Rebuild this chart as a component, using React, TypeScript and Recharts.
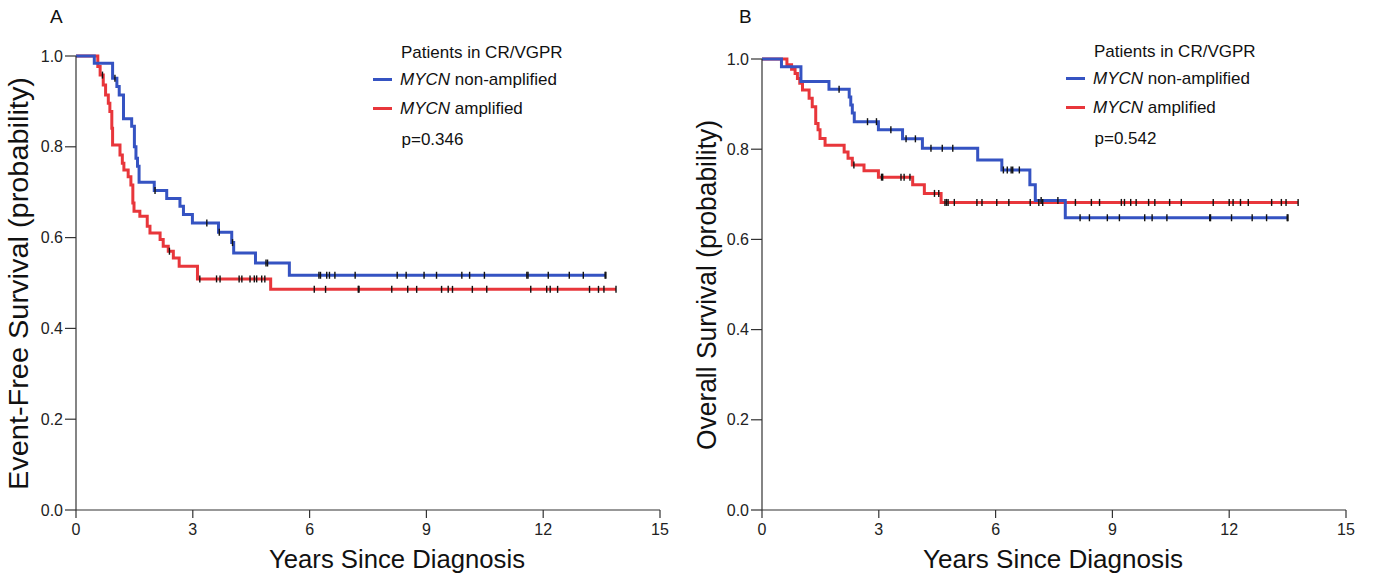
import React from "react";
import { ComposedChart, Line, XAxis, YAxis } from "recharts";

// ---------- Panel A: Event-free survival ----------
const efsNonAmpTimes = [0.47, 0.94, 1.05, 1.11, 1.22, 1.43, 1.5, 1.54, 1.58, 1.62, 2.01, 2.33, 2.67, 2.76, 2.99, 3.66, 4.0, 4.05, 4.61, 5.48];
const efsNonAmpSurv = [0.984, 0.951, 0.933, 0.914, 0.862, 0.845, 0.8, 0.775, 0.757, 0.722, 0.704, 0.686, 0.669, 0.651, 0.632, 0.612, 0.589, 0.566, 0.544, 0.517];
const efsNonAmpCensored = [1.0, 2.03, 3.36, 3.68, 4.02, 4.88, 4.92, 6.24, 6.28, 6.44, 6.51, 6.65, 7.17, 8.25, 8.48, 8.94, 9.26, 9.91, 10.11, 10.49, 11.58, 11.61, 12.13, 12.67, 13.03, 13.59, 13.61];

const efsAmpTimes = [0.56, 0.62, 0.7, 0.76, 0.83, 0.87, 0.92, 0.94, 1.13, 1.19, 1.23, 1.34, 1.41, 1.46, 1.49, 1.64, 1.83, 1.9, 2.16, 2.24, 2.37, 2.5, 2.65, 3.12, 5.0];
const efsAmpSurv = [0.977, 0.958, 0.936, 0.914, 0.896, 0.878, 0.841, 0.804, 0.782, 0.764, 0.749, 0.734, 0.716, 0.676, 0.658, 0.647, 0.625, 0.61, 0.596, 0.581, 0.57, 0.555, 0.537, 0.509, 0.486];
const efsAmpCensored = [0.68, 2.4, 3.18, 3.61, 3.7, 4.19, 4.26, 4.47, 4.58, 4.64, 4.77, 4.85, 6.12, 6.41, 7.25, 7.27, 8.11, 8.52, 8.75, 9.39, 9.56, 9.67, 10.18, 10.55, 11.68, 12.09, 12.18, 12.37, 13.19, 13.42, 13.56, 13.87];

// ---------- Panel B: Overall survival ----------
const osNonAmpTimes = [0.5, 1.0, 1.72, 2.24, 2.28, 2.32, 2.37, 2.99, 3.61, 4.12, 5.54, 6.16, 6.88, 7.02, 7.79];
const osNonAmpSurv = [0.983, 0.95, 0.933, 0.916, 0.898, 0.88, 0.861, 0.843, 0.823, 0.802, 0.776, 0.754, 0.721, 0.686, 0.648];
const osNonAmpCensored = [1.98, 2.71, 2.94, 3.31, 3.7, 3.94, 4.34, 4.63, 4.9, 6.2, 6.3, 6.4, 6.44, 6.61, 7.17, 7.6, 8.17, 8.41, 8.87, 9.18, 9.83, 10.02, 10.4, 11.5, 11.52, 12.06, 12.59, 12.96, 13.49, 13.51];

const osAmpTimes = [0.64, 0.76, 0.85, 0.91, 0.97, 1.04, 1.21, 1.29, 1.38, 1.44, 1.49, 1.62, 2.11, 2.21, 2.32, 2.62, 2.99, 3.87, 4.17, 4.6];
const osAmpSurv = [0.987, 0.977, 0.968, 0.957, 0.946, 0.931, 0.913, 0.894, 0.857, 0.843, 0.824, 0.809, 0.794, 0.78, 0.765, 0.752, 0.738, 0.721, 0.702, 0.682];
const osAmpCensored = [2.36, 3.07, 3.1, 3.57, 3.65, 3.8, 4.43, 4.54, 4.7, 4.74, 4.78, 4.94, 5.52, 5.65, 6.03, 6.34, 6.89, 7.11, 7.21, 8.05, 8.46, 8.67, 9.23, 9.31, 9.47, 9.61, 9.93, 10.09, 10.47, 10.77, 11.59, 12.0, 12.1, 12.29, 12.49, 13.09, 13.34, 13.46, 13.77];

const xTicks = [0, 3, 6, 9, 12, 15];
const yTicks = [0, 0.2, 0.4, 0.6, 0.8, 1.0];

const BLUE = "#3553c2";
const RED = "#e8363b";
const FONT = "'Liberation Sans', Arial, Helvetica, sans-serif";

type Pt = { t: number; s: number; c?: boolean };

function buildKM(times: number[], surv: number[], censored: number[]): Pt[] {
  const pts: Pt[] = [{ t: 0, s: 1 }];
  times.forEach((t, i) => pts.push({ t, s: surv[i] }));
  const survAt = (t: number) => {
    let s = 1;
    times.forEach((et, i) => {
      if (et <= t) s = surv[i];
    });
    return s;
  };
  censored.forEach((t) => pts.push({ t, s: survAt(t), c: true }));
  pts.sort((a, b) => a.t - b.t || (a.c ? 1 : 0) - (b.c ? 1 : 0));
  return pts;
}

const efsNonAmp = buildKM(efsNonAmpTimes, efsNonAmpSurv, efsNonAmpCensored);
const efsAmp = buildKM(efsAmpTimes, efsAmpSurv, efsAmpCensored);
const osNonAmp = buildKM(osNonAmpTimes, osNonAmpSurv, osNonAmpCensored);
const osAmp = buildKM(osAmpTimes, osAmpSurv, osAmpCensored);

const censorDot = (props: any) => {
  const { cx, cy, payload, index } = props;
  if (!payload || !payload.c || cx == null || cy == null) return <g key={`d-${index}`} />;
  return <line key={`d-${index}`} x1={cx} x2={cx} y1={cy - 3.5} y2={cy + 3.5} stroke="#111" strokeWidth={1.4} />;
};

const tickStyle = { fontSize: 16, fill: "#222", fontFamily: FONT };

function KMPanel(props: { left: number; width: number; top: number; right: number; blue: Pt[]; red: Pt[] }) {
  const { left, width, top, right, blue, red } = props;
  return (
    <div style={{ position: "absolute", left, top: 0, width, height: 580 }}>
      <ComposedChart width={width} height={580} margin={{ top, right, bottom: 0, left: 0 }}>
        <XAxis
          type="number"
          dataKey="t"
          domain={[0, 15]}
          ticks={xTicks}
          allowDataOverflow
          height={70}
          tickSize={8}
          tickMargin={6}
          tick={tickStyle}
          axisLine={{ stroke: "#333", strokeWidth: 1.2 }}
          tickLine={{ stroke: "#333", strokeWidth: 1.2 }}
        />
        <YAxis
          type="number"
          domain={[0, 1]}
          ticks={yTicks}
          width={76}
          tickSize={11}
          tickMargin={2}
          tick={tickStyle}
          tickFormatter={(v: number) => v.toFixed(1)}
          axisLine={{ stroke: "#333", strokeWidth: 1.2 }}
          tickLine={{ stroke: "#333", strokeWidth: 1.2 }}
        />
        <Line
          data={red}
          dataKey="s"
          type="stepAfter"
          stroke={RED}
          strokeWidth={3}
          dot={censorDot}
          activeDot={false}
          isAnimationActive={false}
        />
        <Line
          data={blue}
          dataKey="s"
          type="stepAfter"
          stroke={BLUE}
          strokeWidth={3}
          dot={censorDot}
          activeDot={false}
          isAnimationActive={false}
        />
      </ComposedChart>
    </div>
  );
}

function Legend(props: { x: number; y: number; p: string }) {
  const { x, y, p } = props;
  return (
    <g fontFamily={FONT} fontSize={17} fill="#111">
      <text x={x + 28} y={y}>Patients in CR/VGPR</text>
      <line x1={x} x2={x + 19} y1={y + 21.5} y2={y + 21.5} stroke={BLUE} strokeWidth={3} />
      <text x={x + 27} y={y + 27}>
        <tspan fontStyle="italic">MYCN</tspan> non-amplified
      </text>
      <line x1={x} x2={x + 19} y1={y + 50.5} y2={y + 50.5} stroke={RED} strokeWidth={3} />
      <text x={x + 27} y={y + 56}>
        <tspan fontStyle="italic">MYCN</tspan> amplified
      </text>
      <text x={x + 28.5} y={y + 87}>{p}</text>
    </g>
  );
}

export default function App() {
  return (
    <div style={{ position: "absolute", left: 0, top: 0, width: 1373, height: 580, background: "#fff", overflow: "hidden" }}>
      <KMPanel left={0} width={686} top={56} right={26} blue={efsNonAmp} red={efsAmp} />
      <KMPanel left={686} width={687} top={59} right={27} blue={osNonAmp} red={osAmp} />
      <svg width={1373} height={580} style={{ position: "absolute", left: 0, top: 0, pointerEvents: "none" }}>
        <g fontFamily={FONT} fill="#111">
          <text x={50} y={23} fontSize={19}>A</text>
          <text x={739} y={23} fontSize={19}>B</text>
          <text transform="translate(28,283.5) rotate(-90)" textAnchor="middle" fontSize={27} textLength={413} lengthAdjust="spacingAndGlyphs">
            Event-Free Survival (probability)
          </text>
          <text transform="translate(716,285) rotate(-90)" textAnchor="middle" fontSize={27} textLength={330} lengthAdjust="spacingAndGlyphs">
            Overall Survival (probability)
          </text>
          <text x={397} y={568} textAnchor="middle" fontSize={25} textLength={256} lengthAdjust="spacingAndGlyphs">
            Years Since Diagnosis
          </text>
          <text x={1053} y={568} textAnchor="middle" fontSize={25} textLength={260} lengthAdjust="spacingAndGlyphs">
            Years Since Diagnosis
          </text>
        </g>
        <Legend x={373} y={58} p="p=0.346" />
        <Legend x={1066} y={57} p="p=0.542" />
      </svg>
    </div>
  );
}
